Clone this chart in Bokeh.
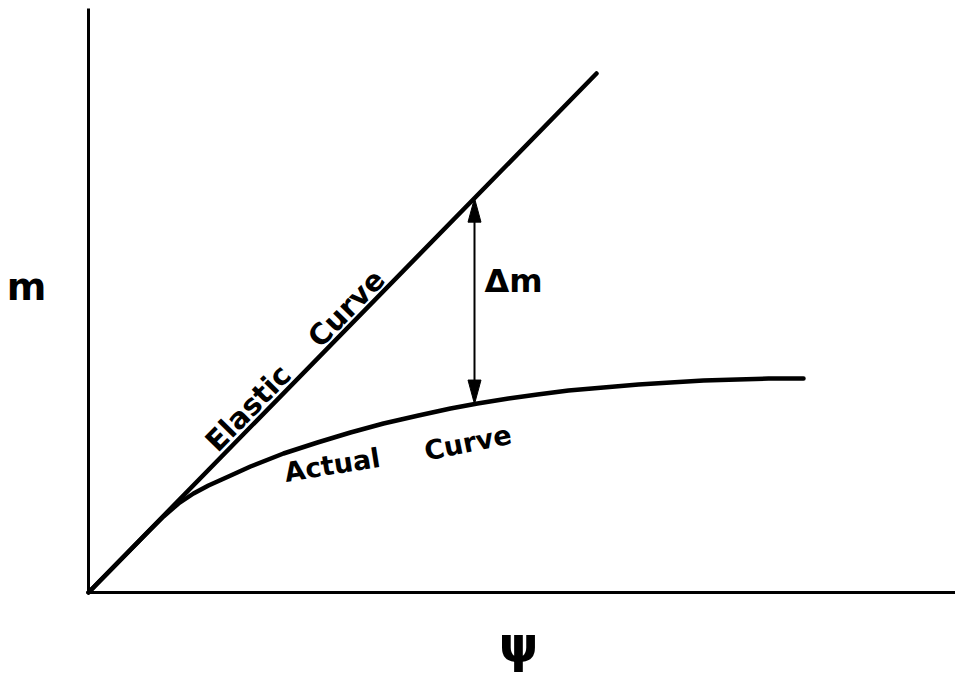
import numpy as np
from bokeh.plotting import figure
from bokeh.models import Range1d
from bokeh.core.properties import value
from bokeh.embed import file_html
from bokeh.resources import INLINE

# Elastic response: straight line through the origin
elastic_psi = [0, 508]
elastic_m = [0, 519]

# Actual (inelastic) response, bending away from the elastic line
actual_psi = [0, 60, 75, 90, 105, 120, 140, 162, 195, 229, 262, 295, 330, 362,
              389, 420, 449, 480, 515, 550, 582, 615, 649, 680, 715]
actual_m = [0, 61, 76, 89, 99, 107, 116, 126, 139, 150, 160, 169, 177, 184,
            189, 194, 198, 202, 205, 208, 210, 212, 213, 214, 214]

# Where the moment difference is measured
delta_psi = 386

# Axis extents
psi_axis_end = 867
m_axis_end = 584

FONT = value("DejaVu Sans")

p = figure(width=955, height=675, output_backend="svg", toolbar_location=None,
           x_range=Range1d(-88, 867), y_range=Range1d(-83, 592),
           min_border=0)
p.axis.visible = False
p.grid.visible = False
p.outline_line_color = None
p.background_fill_color = "white"
p.border_fill_color = "white"

# axes
p.line([0, 0], [0, m_axis_end], line_color="black", line_width=3)
p.line([0, psi_axis_end], [0, 0], line_color="black", line_width=3)

# curves
p.line(elastic_psi, elastic_m, line_color="black", line_width=4.5, line_cap="round")
p.line(actual_psi, actual_m, line_color="black", line_width=4.5, line_cap="round",
       line_join="round")

# delta m: double-headed arrow between the two curves
slope = elastic_m[1] / elastic_psi[1]
m_top = slope * delta_psi
m_bot = float(np.interp(delta_psi, actual_psi, actual_m))
head_len, head_half = 24, 6.5
p.line([delta_psi, delta_psi], [m_bot + head_len - 2, m_top - head_len + 2],
       line_color="black", line_width=2)
p.patches(
    xs=[[delta_psi, delta_psi - head_half, delta_psi + head_half],
        [delta_psi, delta_psi - head_half, delta_psi + head_half]],
    ys=[[m_top, m_top - head_len, m_top - head_len],
        [m_bot, m_bot + head_len, m_bot + head_len]],
    fill_color="black", line_color="black", line_width=1)

# labels
ang_el = float(np.arctan2(elastic_m[1], elastic_psi[1]))
common = dict(text_font=FONT, text_font_style="bold", text_baseline="alphabetic")
p.text(x=[122], y=[146], text=["Elastic"], angle=ang_el,
       text_font_size="29px", text_align="left", **common)
p.text(x=[291], y=[318], text=["Curve"], angle=ang_el,
       text_font_size="29px", text_align="right", **common)
p.text(x=[196], y=[120], text=["Actual"], angle=0.16,
       text_font_size="27px", text_align="left", **common)
p.text(x=[336], y=[141], text=["Curve"], angle=0.2,
       text_font_size="27px", text_align="left", **common)
p.text(x=[396], y=[312], text=["Δm"], text_font_size="32px", text_align="left",
       **common)
p.text(x=[-62], y=[306], text=["m"], text_font_size="38px", text_align="center",
       **common)
p.text(x=[430], y=[-52], text=["ψ"], text_font=FONT, text_font_style="bold",
       text_font_size="50px", text_align="center", text_baseline="middle")

open("out.html", "w").write(file_html(p, INLINE))
